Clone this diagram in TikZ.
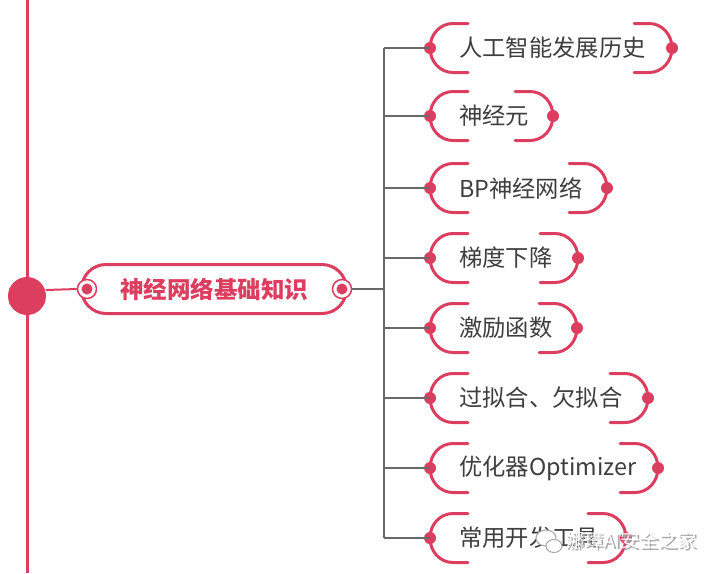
\documentclass[tikz,border=0pt]{standalone}
\usepackage{fontspec}
\newfontfamily\cjk{Noto Sans CJK SC}
\usetikzlibrary{calc}
\definecolor{mred}{RGB}{220,62,96}
\definecolor{lgray}{RGB}{105,105,105}
\definecolor{tgray}{RGB}{62,62,62}
\tikzset{
  brk/.style={draw=mred,line width=3pt,line cap=round},
  reddot/.style={circle,fill=mred,inner sep=0pt,minimum size=12pt},
  conn/.style={draw=lgray,line width=2.5pt},
  itemtext/.style={anchor=west,inner sep=0pt,text=tgray,font=\cjk\fontsize{23.3}{27}\selectfont},
}
\newcommand\branchitem[4]{%
  % #1 name, #2 y, #3 right x, #4 text
  \coordinate (#1L) at (430,#2);
  \coordinate (#1R) at (#3,#2);
  \draw[brk] (468,#2-24.5) -- (453,#2-24.5) .. controls (440,#2-24.5) and (430,#2-13.5) .. (#1L)
             .. controls (430,#2+13.5) and (440,#2+24.5) .. (453,#2+24.5) -- (468,#2+24.5);
  \draw[brk] (#3-38,#2-24.5) -- (#3-23,#2-24.5) .. controls (#3-10,#2-24.5) and (#3,#2-13.5) .. (#1R)
             .. controls (#3,#2+13.5) and (#3-10,#2+24.5) .. (#3-23,#2+24.5) -- (#3-38,#2+24.5);
  \node[reddot] at (#1L) {};
  \node[reddot] at (#1R) {};
  \node[itemtext] (#1T) at (459,#2) {#4};
  \coordinate (#1J) at (384,#2);
  \draw[conn] (#1J) -- (#1L);
}
\begin{document}
\begin{tikzpicture}[x=1pt,y=-1pt]
\useasboundingbox[fill=white] (0,0) rectangle (712,573);
% main vertical red line and big dot
\coordinate (top) at (27,0);
\coordinate (bot) at (27,573);
\draw[mred,line width=3pt] (top) -- (bot);
\node[circle,fill=mred,inner sep=0pt,minimum size=38pt] (big) at (27,296) {};
% main box
\node[draw=mred,line width=3pt,rounded corners=24.5pt,minimum width=265pt,minimum height=49pt,inner sep=0pt,
      text=mred,font=\cjk\bfseries\fontsize{23.5}{27}\selectfont] (main) at (214,289) {神经网络基础知识};
\node[circle,draw=mred,fill=white,line width=1.5pt,minimum size=19pt,inner sep=0pt] (cl) at (87,289) {};
\node[circle,fill=mred,minimum size=11pt,inner sep=0pt] at (cl) {};
\node[circle,draw=mred,fill=white,line width=1.5pt,minimum size=19pt,inner sep=0pt] (cr) at (342,289) {};
\node[circle,fill=mred,minimum size=11pt,inner sep=0pt] at (cr) {};
\draw[mred,line width=2pt] (big.east) ++(0,-6) coordinate (bge) -- (cl.west);
% trunk
\coordinate (tj) at (384,289);
\draw[conn] (cr.east) -- (tj);
\coordinate (ttop) at (384,48);
\coordinate (tbot) at (384,538);
\draw[conn] (ttop) -- (tbot);
% items
\branchitem{a}{48}{672}{人工智能发展历史}
\branchitem{b}{116}{553}{神经元}
\branchitem{c}{188}{607}{BP神经网络}
\branchitem{d}{258}{578}{梯度下降}
\branchitem{e}{328}{577}{激励函数}
\branchitem{f}{398}{648}{过拟合、欠拟合}
\branchitem{g}{468}{658}{优化器Optimizer}
\branchitem{h}{538}{626}{常用开发工具}
% watermark
\node[anchor=west,inner sep=0pt,text=gray!70,font=\cjk\fontsize{19}{22}\selectfont] (wms) at (566.8,541.8) {娜璋AI安全之家};
\node[anchor=west,inner sep=0pt,text=white,font=\cjk\fontsize{19}{22}\selectfont] (wm) at (565,540) {娜璋AI安全之家};
\draw[gray!70,line width=1pt,fill=white] (546,538) ellipse (10pt and 8pt);
\draw[gray!70,line width=1pt,fill=white] (554,546) ellipse (8pt and 6.5pt);
\end{tikzpicture}
\end{document}
